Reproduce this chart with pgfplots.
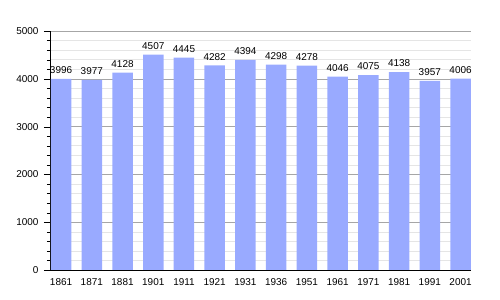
\documentclass[border=0pt]{standalone}
\usepackage{pgfplots}
\pgfplotsset{compat=1.18}
\usepackage{fontspec}
\setmainfont{Liberation Sans}
\definecolor{barblue}{RGB}{153,170,255}
\begin{document}
\begin{tikzpicture}
\path[use as bounding box] (0,0) rectangle (500bp,300bp);
\begin{axis}[
  at={(50bp,30bp)}, anchor=south west,
  scale only axis,
  width=421bp, height=239bp,
  xmin=-0.36, xmax=13.34,
  ymin=0, ymax=5000,
  axis x line=bottom, axis y line=left,
  axis line style={-, black, line width=0.8pt},
  xtick={0,...,13},
  xticklabels={1861,1871,1881,1901,1911,1921,1931,1936,1951,1961,1971,1981,1991,2001},
  x tick style={draw=none},
  ytick={0,1000,...,5000},
  minor y tick num=4,
  tick align=outside,
  major tick length=6bp, minor tick length=3bp,
  y tick style={black},
  grid=both,
  major grid style={gray!70, line width=0.6pt},
  minor grid style={gray!20, line width=0.5pt},
  x grid style={draw=none},
  tick label style={font=\fontsize{10}{12}\selectfont},
  yticklabel style={xshift=-2bp},
  xticklabel style={yshift=1bp},
  /pgf/number format/assume math mode=true,
  /pgf/number format/1000 sep={},
  ybar, bar width=20.5bp,
  nodes near coords,
  every node near coord/.append style={font=\fontsize{10}{12}\selectfont, inner sep=0pt, yshift=5bp, black},
]
\addplot[fill=barblue, draw=none, bar shift=0pt] coordinates {
(0,3996) (1,3977) (2,4128) (3,4507) (4,4445) (5,4282) (6,4394)
(7,4298) (8,4278) (9,4046) (10,4075) (11,4138) (12,3957) (13,4006)};
\end{axis}
\end{tikzpicture}
\end{document}
